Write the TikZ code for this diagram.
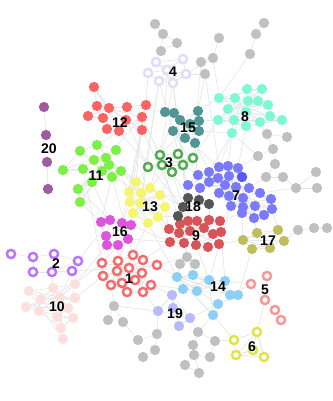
\documentclass[tikz,border=0pt]{standalone}
\usepackage{fontspec}
\setsansfont{Liberation Sans}
\usetikzlibrary{backgrounds}
\definecolor{cgrey}{RGB}{192,192,192}
\definecolor{cA}{RGB}{255,98,98}
\definecolor{cB}{RGB}{160,90,160}
\definecolor{cC}{RGB}{222,222,250}
\definecolor{cD}{RGB}{80,150,148}
\definecolor{cE}{RGB}{125,250,212}
\definecolor{cF}{RGB}{80,172,80}
\definecolor{cG}{RGB}{125,240,70}
\definecolor{cH}{RGB}{245,245,110}
\definecolor{cI}{RGB}{122,122,255}
\definecolor{cIdark}{RGB}{90,90,240}
\definecolor{cJ}{RGB}{85,85,85}
\definecolor{cK}{RGB}{215,85,88}
\definecolor{cL}{RGB}{220,85,220}
\definecolor{cM}{RGB}{190,190,95}
\definecolor{cN}{RGB}{185,115,255}
\definecolor{cO}{RGB}{255,222,222}
\definecolor{cP}{RGB}{250,105,105}
\definecolor{cQ}{RGB}{140,208,250}
\definecolor{cR}{RGB}{185,185,255}
\definecolor{cS}{RGB}{250,150,150}
\definecolor{cT}{RGB}{222,230,70}
\definecolor{cEdge}{RGB}{228,228,228}
\tikzset{
  dot/.style={circle,inner sep=0pt,minimum size=10.3pt,draw=none,fill=#1},
  ring/.style={circle,inner sep=0pt,minimum size=8.2pt,line width=2.4pt,fill=white,draw=#1},
  lab/.style={font=\sffamily\bfseries\fontsize{14}{14}\selectfont,inner sep=0pt,text=black},
  edge/.style={draw=cEdge,line width=0.6pt},
}
\newcommand\mkclus[3]{%
  \foreach \px/\py [count=\i] in {#3} {\node[#2] (#1-\i) at (\px,\py) {};}%
}
\newcommand\webc[2]{%
  \foreach \i in {2,...,#2} {%
    \pgfmathtruncatemacro\j{\i-1}%
    \pgfmathtruncatemacro\k{mod(\i*3,#2)+1}%
    \draw[edge] (#1-\i) -- (#1-\j);
    \draw[edge] (#1-\i) -- (#1-1);
    \ifnum\k=\i\else\draw[edge] (#1-\i) -- (#1-\k);\fi
  }%
}
\begin{document}
\begin{tikzpicture}[x=1pt,y=-1pt]
\useasboundingbox (0,0) rectangle (332,401);
% grey groups
\mkclus{ga}{dot=cgrey}{155/24,163/34,177/43,161/51}
\mkclus{gb}{dot=cgrey}{219/38,213/58,201/62,205/74}
\mkclus{gc}{dot=cgrey}{264/23,256/34,250/54}
\mkclus{gd}{dot=cgrey}{267/134,287/137,273/149,258/156,275/164,266/177,283/177}
\mkclus{ge}{dot=cgrey}{316/172,296/188,317/188}
\mkclus{gf}{dot=cgrey}{298/230,314/228,327/228}
\mkclus{gg}{dot=cgrey}{187/257,180/264,195/264}
\mkclus{gh}{dot=cgrey}{114/306,108/320,123/322}
\mkclus{gi}{dot=cgrey}{157/334,138/340,155/350,143/357}
\mkclus{gj}{dot=cgrey}{198/332,215/341,193/345,194/355,210/357,185/365,199/373}
% clusters
\mkclus{c12}{dot=cA}{109/108,94/87,97/106,88/116,103/118,107/129,119/131,126/120,142/130,142/117,146/105,127/107}
\mkclus{c20}{dot=cB}{44/107,46/135,47/162,48/189}
\mkclus{c4}{ring=cC}{167/70,156/62,148/73,159/81,173/83,186/74,183/59}
\mkclus{c15}{dot=cD}{190/124,165/112,174/113,180/120,198/111,199/121,199/131,173/131,185/138,195/143}
\mkclus{c8}{dot=cE}{246/112,247/89,262/89,219/98,235/98,248/101,258/101,268/105,228/109,218/120,234/120,260/122,270/116,282/120,246/126,232/133}
\mkclus{c3}{ring=cF}{162/165,160/155,178/154,148/167,183/165,193/158,172/172}
\mkclus{c11}{dot=cG}{102/171,80/151,97/145,116/150,63/170,83/169,94/160,106/158,109/165,121/171,112/177,92/182,78/189,80/202}
\mkclus{c13}{dot=cH}{141/203,136/182,129/192,141/193,150/188,160/195,130/202,165/207,133/213,148/223,158/217}
\mkclus{c16}{dot=cL}{110/220,101/222,122/223,131/225,106/236,128/239,107/245,118/245}
\mkclus{c7}{dot=cI}{225/185,219/167,228/166,238/168,198/175,209/172,218/178,229/176,242/177,188/185,200/188,209/182,236/187,249/188,219/193,229/196,243/198,260/193,271/199,231/206,243/207,255/206,272/209,242/213,264/215,254/218}
\node[dot=cIdark] at (c7-9) {};
\mkclus{c9}{dot=cK}{190/231,169/229,180/224,188/221,197/221,209/220,220/221,179/233,204/228,213/234,221/232,170/242,184/243,196/245,208/247,219/244}
\mkclus{c18}{dot=cJ}{188/198,199/200,209/204,183/207,178/216}
\mkclus{c17}{dot=cM}{243/240,257/233,278/230,284/241,252/249,270/248}
\mkclus{c1}{ring=cP}{129/268,102/263,118/261,133/255,143/260,157/265,103/276,117/271,142/273,111/285,122/283,127/292,143/292,151/285,135/280}
\mkclus{c2}{ring=cN}{11/254,33/257,54/254,78/261,33/272,52/272,72/271}
\mkclus{c10}{dot=cO}{60/297,75/284,53/288,29/291,41/299,75/298,26/307,39/311,68/308,57/317,73/318,61/328,63/339}
\mkclus{c14}{dot=cQ}{177/277,193/275,209/280,183/289,197/291,225/281,230/295,238/295,218/304,213/315}
\mkclus{c19}{dot=cR}{172/295,158/311,190/318,179/326,173/308}
\mkclus{c5}{ring=cS}{267/276,251/284,265/300,275/310,281/320}
\mkclus{c6}{ring=cT}{257/332,234/340,236/355,253/350,264/357}
% edges
\begin{scope}[on background layer]
\webc{c12}{12}\webc{c4}{7}\webc{c15}{10}\webc{c8}{16}\webc{c3}{7}
\webc{c11}{14}\webc{c13}{11}\webc{c16}{8}\webc{c7}{26}\webc{c9}{16}
\webc{c18}{5}\webc{c17}{6}\webc{c1}{15}\webc{c10}{13}\webc{c14}{10}
\webc{c19}{5}\webc{c6}{5}
\foreach \a/\b in {%
 c20-1/c20-2,c20-3/c20-4,%
 c2-1/c2-2,c2-2/c2-3,c2-3/c2-4,c2-4/c2-7,c2-5/c2-6,c2-6/c2-7,c2-2/c2-5,c2-3/c2-6,c2-4/c2-6,%
 c5-2/c5-3,c5-1/c5-3,c5-3/c5-4,c5-4/c5-5,c5-3/c6-1,c5-2/c14-6,%
 ga-1/ga-2,ga-2/ga-3,ga-2/ga-4,ga-3/ga-4,ga-4/c4-2,%
 gb-1/gb-2,gb-2/gb-3,gb-3/gb-4,gb-2/c4-6,gb-4/c4-6,%
 gc-1/gc-2,gc-2/gc-3,gc-3/c8-4,%
 gd-1/gd-2,gd-1/gd-3,gd-3/gd-4,gd-3/gd-5,gd-5/gd-6,gd-6/gd-7,gd-6/c7-14,gd-4/c7-4,gd-1/c8-12,gd-4/c8-16,%
 ge-1/ge-2,ge-2/ge-3,ge-2/c7-18,ge-2/gd-7,%
 gf-1/gf-2,gf-2/gf-3,gf-1/c17-4,%
 gg-1/gg-2,gg-1/gg-3,gg-1/c9-13,gg-2/c14-1,gg-3/c14-2,gg-1/c1-6,%
 gh-1/gh-2,gh-1/gh-3,gh-1/c1-10,gh-1/c19-2,%
 gi-1/gi-2,gi-1/gi-3,gi-3/gi-4,gi-1/c19-2,gi-2/gh-3,%
 gj-1/gj-2,gj-1/gj-3,gj-3/gj-4,gj-4/gj-5,gj-4/gj-6,gj-6/gj-7,gj-4/gj-7,gj-2/gj-5,gj-1/c19-3,gj-2/c6-2,gj-1/c14-10,%
 c4-4/c13-1,c4-5/c3-2,c4-3/c12-11,c4-4/c9-5,c4-5/c18-1,c4-1/c15-2,c4-4/c13-4,c4-5/c9-1,%
 gb-4/c15-5,gb-3/c3-6,gb-4/c7-2,gb-2/c8-4,%
 c12-9/c13-3,c12-10/c11-8,c12-7/c11-3,c12-12/c15-2,c12-10/c13-2,c12-9/c9-1,c12-8/c3-4,c12-11/c16-3,c12-7/c18-4,c12-9/c13-7,c12-10/c3-2,%
 c11-1/c13-4,c11-10/c13-7,c11-11/c16-2,c11-12/c16-1,c11-10/c9-2,c11-6/c1-2,c11-9/c13-2,c11-13/c16-1,c11-14/c16-2,c11-10/c18-4,c11-11/c1-4,%
 c15-1/c3-2,c15-8/c7-5,c15-9/c7-2,c15-10/c18-2,c15-6/c8-10,c15-5/c8-4,c15-3/c13-5,c15-10/c7-6,c15-7/c8-16,%
 c8-16/c7-2,c8-11/c7-3,c8-15/c7-4,c8-10/c3-6,c8-16/c7-6,%
 c3-7/c13-6,c3-3/c13-5,c3-5/c7-5,c3-7/c18-1,c3-1/c9-3,c3-4/c13-2,c3-7/c9-4,%
 c13-8/c9-2,c13-10/c1-4,c13-11/c18-5,c13-9/c16-4,c13-6/c18-1,c13-1/c9-8,c13-10/c14-1,c13-9/c1-3,c13-11/c9-12,c13-7/c16-3,%
 c16-6/c1-3,c16-8/c1-2,c16-4/c9-12,c16-5/c1-1,c16-1/c2-4,c16-7/c10-2,c16-6/c9-13,%
 c9-13/c14-2,c9-12/c1-5,c9-16/c17-1,c9-10/c7-20,c9-11/c14-6,c9-14/c14-3,c9-7/c7-24,c9-6/c18-3,%
 c7-26/c17-2,c7-23/c17-3,c7-24/c17-1,c7-20/c14-3,c7-11/c18-2,%
 c17-5/c14-8,c1-13/c19-2,c1-14/c14-4,c1-6/c14-1,c1-2/c10-2,c1-7/c10-6,c1-1/c2-7,%
 c2-4/c10-2,c2-7/c10-1,c2-6/c10-3,%
 c14-9/c19-3,c14-10/c6-2,c14-4/c19-1,c14-7/c5-2,c19-1/c1-14}{\draw[edge] (\a) -- (\b);}
\end{scope}
% labels
\node[lab] (l4) at (173,72) {4};
\node[lab] (l12) at (120,123) {12};
\node[lab] (l8) at (245,117) {8};
\node[lab] (l15) at (188,128) {15};
\node[lab] (l20) at (49,149) {20};
\node[lab] (l11) at (96,176) {11};
\node[lab] (l3) at (169,163) {3};
\node[lab] (l7) at (236,196) {7};
\node[lab] (l13) at (150,207) {13};
\node[lab] (l18) at (193,207) {18};
\node[lab] (l9) at (196,236) {9};
\node[lab] (l16) at (120,232) {16};
\node[lab] (l17) at (268,241) {17};
\node[lab] (l2) at (56,264) {2};
\node[lab] (l1) at (129,279) {1};
\node[lab] (l14) at (218,287) {14};
\node[lab] (l5) at (265,290) {5};
\node[lab] (l10) at (57,307) {10};
\node[lab] (l19) at (175,314) {19};
\node[lab] (l6) at (252,347) {6};
\end{tikzpicture}
\end{document}
